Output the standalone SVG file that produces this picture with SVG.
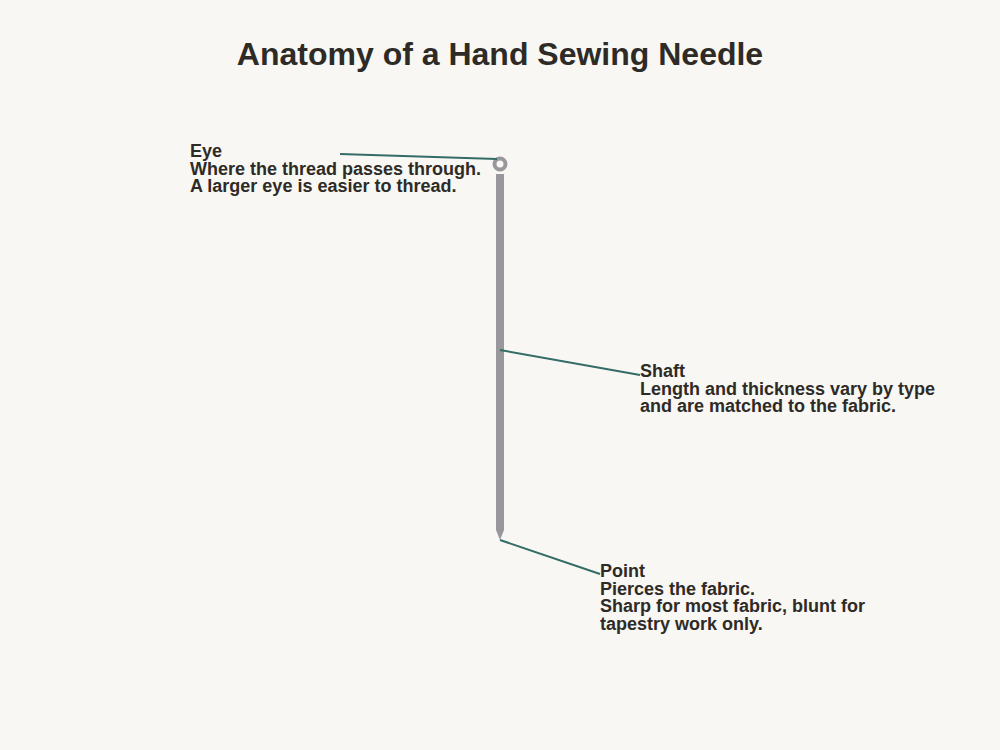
<svg xmlns="http://www.w3.org/2000/svg" width="1000" height="750" viewBox="0 0 1000 750">
<style>
.t{font-family:"Liberation Sans",Arial,sans-serif;font-weight:bold;fill:#2e2b27}
.lbl{font-size:18px}
.lead{stroke:#336b66;stroke-width:2;fill:none}
</style>
<rect width="1000" height="750" fill="#f9f7f3"/>
<text class="t" x="500" y="65" font-size="32" text-anchor="middle">Anatomy of a Hand Sewing Needle</text>
<g id="needle">
<rect x="496" y="174" width="8" height="356" fill="#98979c"/>
<polygon points="496,530 504,530 500,540" fill="#98979c"/>
<circle cx="500" cy="164" r="5.5" fill="none" stroke="#98979c" stroke-width="4"/>
</g>
<g id="connectors">
<line class="lead" x1="340" y1="154" x2="497" y2="159"/>
<line class="lead" x1="500" y1="350" x2="640" y2="375"/>
<line class="lead" x1="500" y1="540" x2="600" y2="574"/>
</g>
<g id="eye">
<text class="t lbl" x="190" y="157">Eye</text>
<text class="t lbl" x="190" y="175">Where the thread passes through.</text>
<text class="t lbl" x="190" y="192">A larger eye is easier to thread.</text>
</g>
<g id="shaft">
<text class="t lbl" x="640" y="377">Shaft</text>
<text class="t lbl" x="640" y="395">Length and thickness vary by type</text>
<text class="t lbl" x="640" y="412">and are matched to the fabric.</text>
</g>
<g id="point">
<text class="t lbl" x="600" y="577">Point</text>
<text class="t lbl" x="600" y="595">Pierces the fabric.</text>
<text class="t lbl" x="600" y="612">Sharp for most fabric, blunt for</text>
<text class="t lbl" x="600" y="630">tapestry work only.</text>
</g>
</svg>
